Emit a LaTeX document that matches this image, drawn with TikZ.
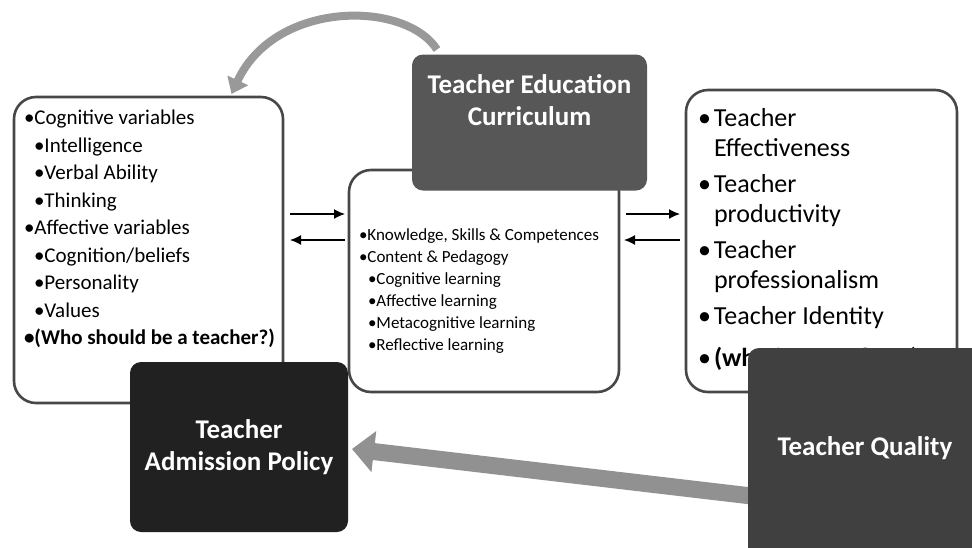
\documentclass[tikz,border=0pt]{standalone}
\usepackage{fontspec}
\setmainfont{Carlito}
\usetikzlibrary{arrows.meta, calc, positioning}

\begin{document}
\begin{tikzpicture}[x=1pt, y=-1pt]
\tikzset{every node/.style={inner sep=0pt, outer sep=0pt}}

\tikzstyle{panel}=[rectangle, rounded corners=22pt, draw=black!72, fill=white, line width=2.6pt]
\tikzstyle{darkpanel}=[rectangle, rounded corners=11pt, text=white, align=center, font=\fontsize{27}{32}\selectfont\bfseries]
\tikzstyle{listtext}=[align=left, anchor=north west, text=black]
\tikzstyle{link}=[line width=1.4pt, -{Latex[length=11pt, width=10pt]}]
\tikzstyle{bigarrow}=[draw=black!43, line width=17pt, -{Triangle[length=22pt, width=40pt]}]
\tikzstyle{curvearrow}=[draw=black!40, line width=8pt, -{Triangle[length=15pt, width=22pt]}]

\clip (0,0) rectangle (972,547);
\fill[white] (0,0) rectangle (972,547);

% white panels
\node[panel, minimum width=269pt, minimum height=306pt] (lvars) at (148.5,250) {};
\node[panel, minimum width=270pt, minimum height=222pt] (curr) at (484,281) {};
\node[panel, minimum width=271pt, minimum height=302pt] (quality) at (821.5,241) {};

% panel texts
\node[listtext, font=\fontsize{21}{27.5}\selectfont] (lvars text) at ($(lvars.north west)+(10,13)$) {%
  •Cognitive variables\\
  \hspace*{10pt}•Intelligence\\
  \hspace*{10pt}•Verbal Ability\\
  \hspace*{10pt}•Thinking\\
  •Affective variables\\
  \hspace*{10pt}•Cognition/beliefs\\
  \hspace*{10pt}•Personality\\
  \hspace*{10pt}•Values\\
  \textbf{•(Who should be a teacher?)}};

\node[listtext, font=\fontsize{17}{22}\selectfont] (curr text) at ($(curr.north west)+(10,59)$) {%
  •Knowledge, Skills \& Competences\\
  •Content \& Pedagogy\\
  \hspace*{9pt}•Cognitive learning\\
  \hspace*{9pt}•Affective learning\\
  \hspace*{9pt}•Metacognitive learning\\
  \hspace*{9pt}•Reflective learning};

\node[listtext, font=\fontsize{26}{30}\selectfont] (quality text) at ($(quality.north west)+(12,18)$) {%
  \makebox[16pt][l]{•}Teacher\\
  \hspace*{16pt}Effectiveness\\[6pt]
  \makebox[16pt][l]{•}Teacher\\
  \hspace*{16pt}productivity\\[6pt]
  \makebox[16pt][l]{•}Teacher\\
  \hspace*{16pt}professionalism\\[6pt]
  \makebox[16pt][l]{•}Teacher Identity\\[12pt]
  \makebox[16pt][l]{•}\textbf{(who is a teacher?)}};

% two-way links
\coordinate (row a) at (0,214);
\coordinate (row b) at (0,240);
\draw[link] ($(lvars.east |- row a)+(7,0)$) -- ($(curr.west |- row a)+(-4,0)$);
\draw[link] ($(curr.west |- row b)+(-4,0)$) -- ($(lvars.east |- row b)+(7,0)$);
\draw[link] ($(curr.east |- row a)+(7,0)$) -- ($(quality.west |- row a)+(-6,0)$);
\draw[link] ($(quality.west |- row b)+(-6,0)$) -- ($(curr.east |- row b)+(5,0)$);

% dark panels
\node[darkpanel, fill=black!66, minimum width=235pt, minimum height=136pt] (tec) at (529.5,122.5) {};
\node[darkpanel, anchor=north] (tec text) at ($(tec.north)+(0,20)$) {Teacher Education\\Curriculum};

\draw[curvearrow] ($(tec.north west)+(25,-5)$) .. controls (405,0) and (275,0) .. ($(lvars.north)+(83,-3)$);

\node[darkpanel, fill=black!87, minimum width=218pt, minimum height=170pt] (admission) at (239,447) {Teacher\\Admission Policy};

\draw[bigarrow] ($(admission.east)+(412,50)$) -- ($(admission.east)+(4,2)$);

\node[darkpanel, fill=black!75, minimum width=237pt, minimum height=212pt] (tq) at (866.5,454) {};
\node[darkpanel] (tq text) at (865,448) {Teacher Quality};

\end{tikzpicture}
\end{document}
